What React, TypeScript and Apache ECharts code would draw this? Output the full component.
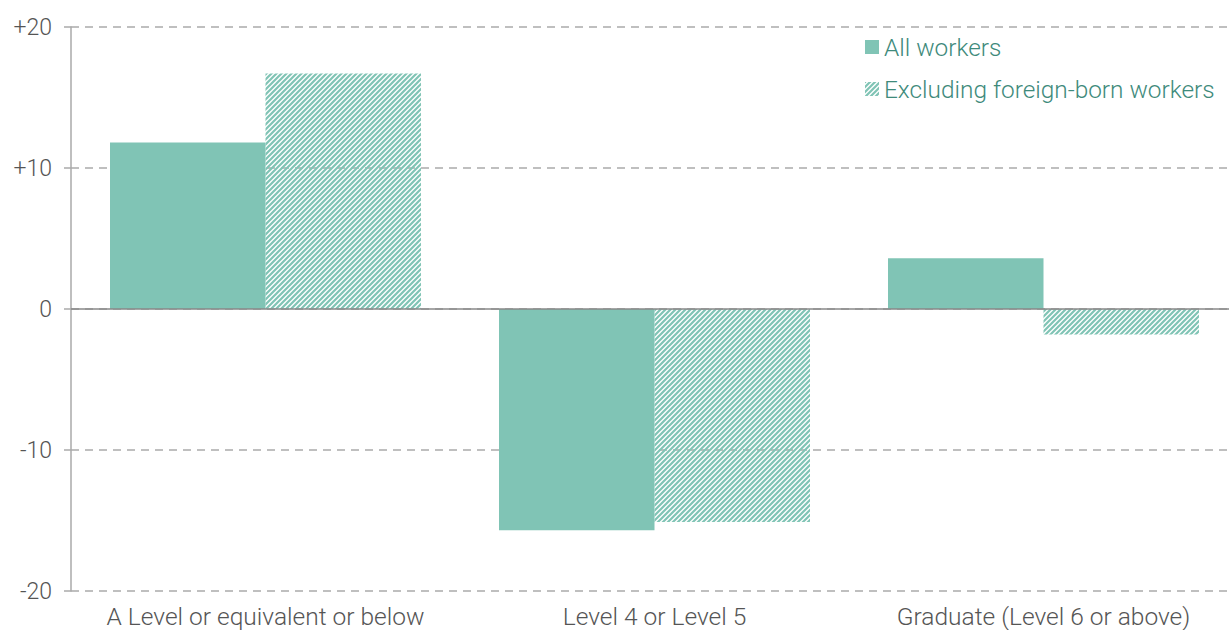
import React, { useEffect, useRef } from "react";
import * as echarts from "echarts";

const categories = ["A Level or equivalent or below", "Level 4 or Level 5", "Graduate (Level 6 or above)"];
const allWorkers = [11.8, -15.7, 3.6];
const excludingForeign = [16.7, -15.1, -1.8];
const seriesNames = ["All workers", "Excluding foreign-born workers"];

const TEAL = "#80c4b5";

function makePattern(): HTMLCanvasElement {
  const c = document.createElement("canvas");
  const s = 5;
  c.width = s;
  c.height = s;
  const ctx = c.getContext("2d")!;
  ctx.strokeStyle = TEAL;
  ctx.lineWidth = 2.2;
  ctx.beginPath();
  ctx.moveTo(-1, s + 1);
  ctx.lineTo(s + 1, -1);
  ctx.moveTo(-1, 1);
  ctx.lineTo(1, -1);
  ctx.moveTo(s - 1, s + 1);
  ctx.lineTo(s + 1, s - 1);
  ctx.stroke();
  return c;
}

export default function App() {
  const ref = useRef<HTMLDivElement>(null);
  useEffect(() => {
    if (!ref.current) return;
    const chart = echarts.init(ref.current, undefined, { renderer: "svg" });
    const pattern = { image: makePattern(), repeat: "repeat" };
    const font = "Roboto";
    chart.setOption({
      animation: false,
      textStyle: { fontFamily: font },
      grid: { left: 71, right: -9, top: 27, bottom: 39, containLabel: false, outerBoundsMode: "none" },
      legend: {
        orient: "vertical",
        left: 860,
        top: 30,
        itemWidth: 14,
        itemHeight: 14,
        itemGap: 18,
        icon: "rect",
        textStyle: { fontSize: 24.4, color: "#3e8a7b", fontFamily: font, fontWeight: 300 },
        data: seriesNames,
      },
      xAxis: {
        type: "category",
        data: categories,
        axisLine: { show: false },
        axisTick: { show: false },
        axisLabel: { interval: 0, color: "#555", fontSize: 24.5, margin: 13, fontFamily: font, fontWeight: 300 },
      },
      yAxis: {
        type: "value",
        min: -20,
        max: 20,
        interval: 10,
        axisLine: { show: true, lineStyle: { color: "#aaa", width: 1.5 } },
        axisTick: { show: true, length: 7, lineStyle: { color: "#aaa", width: 1.5 } },
        axisLabel: {
          color: "#555",
          fontSize: 23,
          margin: 19,
          fontFamily: font,
          fontWeight: 300,
          formatter: (v: number) => (v > 0 ? "+" + v : String(v)),
        },
        splitLine: { show: true, lineStyle: { color: "#aaa", type: [8, 6], width: 1.5 } },
      },
      series: [
        {
          name: seriesNames[0],
          type: "bar",
          data: allWorkers,
          barWidth: 155.5,
          barGap: "0%",
          itemStyle: { color: TEAL },
          markLine: {
            silent: true,
            symbol: "none",
            label: { show: false },
            lineStyle: { color: "#888", type: "solid", width: 1.5 },
            data: [{ yAxis: 0 }],
          },
        },
        {
          name: seriesNames[1],
          type: "bar",
          data: excludingForeign,
          barWidth: 155.5,
          barGap: "0%",
          itemStyle: { color: pattern },
        },
      ],
    });
    return () => chart.dispose();
  }, []);
  return <div ref={ref} style={{ width: 1229, height: 630, position: "absolute", left: 0, top: 0, overflow: "hidden" }} />;
}
